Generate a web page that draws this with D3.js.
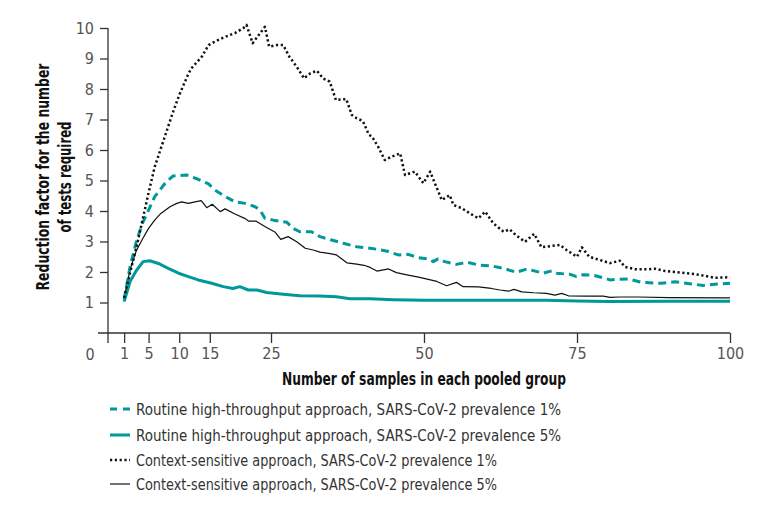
<!DOCTYPE html>
<html><head><meta charset="utf-8">
<script src="https://cdn.jsdelivr.net/npm/d3@7"></script>
<style>
body{margin:0;background:#fff;}
svg{display:block;}
.cond{font-family:'Liberation Sans Narrow','DejaVu Sans Condensed','Roboto Condensed',sans-serif;font-stretch:condensed;}
</style></head><body>
<svg id="c" width="771" height="510"></svg>
<script>
// ---- data ----
const ctx1X = [1,2,3,4,5,6,7,8,9,10,11.5,12,13.7,14.8,15.8,17.5,19.1,20.5,21,22,23,24,24.7,26,27,28,29.2,30.4,31.4,32.5,33.5,34.6,35.6,37.3,38.2,39,40,41,41.5,42.5,43.6,44.7,46.1,46.9,48.5,49.9,51,52.9,54.2,54.8,56.2,57.5,58.9,60,61.3,63,64,65,66.5,68,69.2,72.2,73.3,75,75.8,77,78.8,80.4,82,82.8,84.5,86.7,87.7,89.4,92,94.3,96,97.5,100];
const ctx1Y = [1.15,2.0,2.8,3.7,4.6,5.45,6.05,6.65,7.25,7.8,8.5,8.68,9.06,9.44,9.55,9.71,9.83,10.0,10.1,9.5,9.77,10.04,9.39,9.44,9.44,9.06,8.73,8.35,8.51,8.6,8.35,8.24,7.64,7.67,7.15,7.04,6.95,6.5,6.44,6.11,5.67,5.78,5.89,5.18,5.29,4.91,5.29,4.36,4.52,4.2,4.09,3.92,3.76,3.98,3.6,3.32,3.4,3.21,2.99,3.25,2.81,2.89,2.72,2.5,2.81,2.5,2.39,2.29,2.37,2.17,2.09,2.09,2.11,2.03,1.98,1.93,1.87,1.81,1.83];

const rt1X = [1,2,3,4,5,6,7.7,9,11.2,13.1,14.8,15.8,18,19.1,20.8,22.4,23.2,24,25.4,27.6,28.6,29.7,31.6,33,34.9,36.8,39,41.2,42.5,44.2,45.8,47.4,49.1,50.7,51.5,52.3,53.4,55.3,57,58.9,61,63,65.1,66.8,69.5,70.9,71.7,73.9,74.9,76,77.7,79.3,80.4,81.8,83.4,85.6,88.8,91,93.7,95.6,97.5,100];
const rt1Y = [1.1,2.2,3.0,3.6,4.03,4.47,4.91,5.15,5.18,5.04,4.89,4.69,4.42,4.3,4.25,4.14,4.03,3.76,3.7,3.63,3.43,3.32,3.32,3.16,3.05,2.94,2.83,2.78,2.74,2.67,2.56,2.58,2.47,2.43,2.34,2.43,2.34,2.25,2.32,2.23,2.2,2.12,1.99,2.1,1.96,2.04,1.96,1.92,1.85,1.91,1.89,1.81,1.74,1.76,1.77,1.66,1.63,1.68,1.61,1.56,1.6,1.63];

const ctx5X = [1,2,3,4,5,6,7,8.5,9.6,10.4,11.5,12.6,13.6,14.5,15.4,16.7,17.5,19.1,20.8,21.3,22.5,24,25.7,26.6,27.8,29.2,30.6,31.9,33,34.4,35.7,37.4,39,40.2,41.2,42.3,44.2,45.5,47.4,49.1,50.7,52.1,53.7,55.3,56.4,58.9,61,62.4,63.8,64.7,66,67.9,70,71.4,72.5,73.6,76.6,79.3,80.4,82,85,90,100];
const ctx5Y = [1.15,2.1,2.7,3.08,3.43,3.7,3.92,4.14,4.25,4.3,4.25,4.3,4.34,4.11,4.22,3.98,4.07,3.9,3.75,3.67,3.67,3.49,3.3,3.07,3.16,2.99,2.78,2.72,2.65,2.61,2.56,2.3,2.26,2.22,2.15,2.03,2.1,1.98,1.9,1.83,1.76,1.69,1.55,1.66,1.52,1.51,1.46,1.41,1.37,1.43,1.35,1.32,1.3,1.24,1.3,1.22,1.21,1.21,1.17,1.18,1.18,1.16,1.15];

const rt5X = [1,2,3,4.1,5.2,6.6,8.2,9.9,11.5,13.1,15.3,17.2,18.8,19.9,21.3,22.7,24.3,27,29.7,33,35.7,37.9,41.2,45,50,60,70,75,80,90,100];
const rt5Y = [1.03,1.7,2.05,2.34,2.37,2.28,2.12,1.96,1.85,1.74,1.63,1.52,1.46,1.52,1.41,1.41,1.33,1.27,1.22,1.21,1.19,1.12,1.12,1.09,1.07,1.07,1.07,1.05,1.03,1.04,1.04];

const xTicks = [1,5,10,15,25,50,75,100];
const yTicks = [1,2,3,4,5,6,7,8,9,10];
const legendLabels = [
  "Routine high-throughput approach, SARS-CoV-2 prevalence 1%",
  "Routine high-throughput approach, SARS-CoV-2 prevalence 5%",
  "Context-sensitive approach, SARS-CoV-2 prevalence 1%",
  "Context-sensitive approach, SARS-CoV-2 prevalence 5%"
];

// ---- drawing ----
const TEAL = "#00989a";
const svg = d3.select("#c");
const x = d3.scaleLinear().domain([0,100]).range([118,730]);
const y = d3.scaleLinear().domain([0,10]).range([333,28]);
const axisX0 = 108;

const series = [
  {xs: rt1X, ys: rt1Y, color: TEAL, width: 3, dash: "8,5"},
  {xs: rt5X, ys: rt5Y, color: TEAL, width: 3, dash: null},
  {xs: ctx1X, ys: ctx1Y, color: "#111", width: 2.5, dash: "2.2,2.6"},
  {xs: ctx5X, ys: ctx5Y, color: "#111", width: 1.2, dash: null}
];

const line = d3.line().x(d=>x(d[0])).y(d=>y(d[1]));
[1,3,0,2].forEach(i=>{
  const s = series[i];
  const pts = s.xs.map((v,j)=>[v,s.ys[j]]);
  svg.append("path").attr("d", line(pts)).attr("fill","none")
    .attr("stroke", s.color).attr("stroke-width", s.width)
    .attr("stroke-dasharray", s.dash).attr("stroke-linejoin","round");
});

// y axis
const gy = svg.append("g").attr("transform",`translate(${axisX0},0)`)
  .call(d3.axisLeft(y).tickValues(yTicks).tickSize(8).tickPadding(6));
gy.select(".domain").remove();
gy.selectAll(".tick line").attr("stroke","#333").attr("stroke-width",1.3);
gy.selectAll(".tick text").attr("class","cond").attr("font-size",16).attr("fill","#555");
gy.append("line").attr("x1",0).attr("x2",0).attr("y1",y(10)).attr("y2",343)
  .attr("stroke","#333").attr("stroke-width",1.3);

// x axis
const gx = svg.append("g").attr("transform",`translate(0,${y(0)})`)
  .call(d3.axisBottom(x).tickValues(xTicks).tickSize(10).tickPadding(5));
gx.select(".domain").remove();
gx.selectAll(".tick line").attr("stroke","#333").attr("stroke-width",1.3);
gx.selectAll(".tick text").attr("class","cond").attr("font-size",16).attr("fill","#555");
gx.append("line").attr("x1",98).attr("x2",x(100)).attr("y1",0).attr("y2",0)
  .attr("stroke","#333").attr("stroke-width",1.3);
svg.append("text").attr("class","cond").attr("x",90).attr("y",y(0)+27)
  .attr("text-anchor","middle").attr("font-size",16).attr("fill","#555").text("0");

// axis titles
const yt = svg.append("text").attr("class","cond").attr("font-weight","bold")
  .attr("font-size",17).attr("fill","#111").attr("text-anchor","middle")
  .attr("transform","translate(49,177) rotate(-90)");
yt.append("tspan").attr("x",0).attr("y",0).attr("textLength",227)
  .attr("lengthAdjust","spacingAndGlyphs").text("Reduction factor for the number");
yt.append("tspan").attr("x",0).attr("y",22).attr("textLength",111)
  .attr("lengthAdjust","spacingAndGlyphs").text("of tests required");

svg.append("text").attr("class","cond").attr("font-weight","bold")
  .attr("font-size",17).attr("fill","#111").attr("text-anchor","middle")
  .attr("x",424).attr("y",385).attr("textLength",284)
  .attr("lengthAdjust","spacingAndGlyphs").text("Number of samples in each pooled group");

// legend
const lg = svg.append("g");
const legY = [409, 435, 460, 484];
const legDash = ["7,6", null, "2.2,2.6", null];
const legLen = [425, 425, 361, 361];
series.forEach((s,i)=>{
  lg.append("line").attr("x1",110).attr("x2",130).attr("y1",legY[i]).attr("y2",legY[i])
    .attr("stroke",s.color).attr("stroke-width",s.width).attr("stroke-dasharray",legDash[i]);
  lg.append("text").attr("class","cond").attr("x",136).attr("y",legY[i]+5.5)
    .attr("font-size",16).attr("fill","#333").attr("textLength",legLen[i])
    .attr("lengthAdjust","spacingAndGlyphs").text(legendLabels[i]);
});
</script>
</body></html>
